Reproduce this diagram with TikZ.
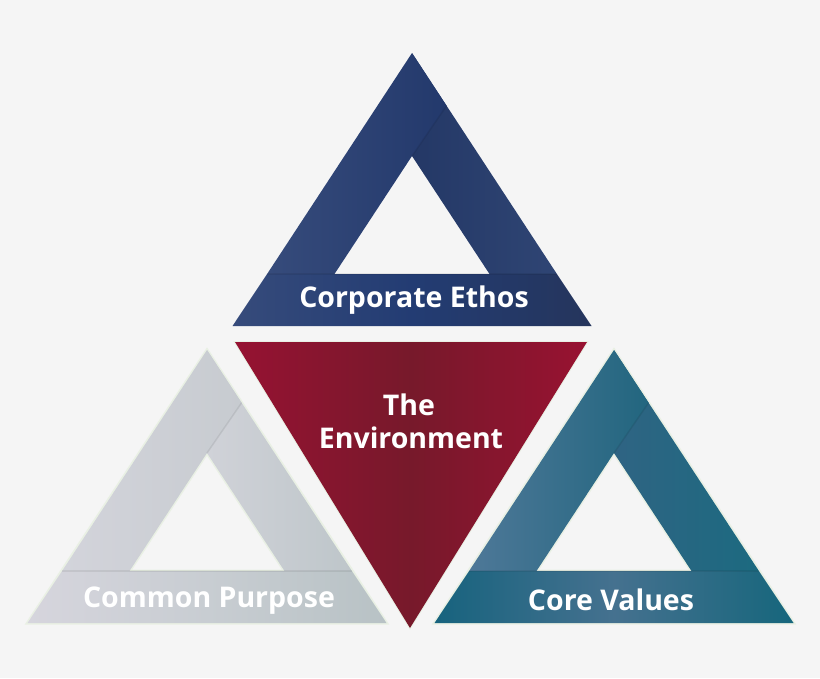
\documentclass[tikz,border=0pt]{standalone}
\usepackage{fontspec}
\setmainfont{Open Sans}[BoldFont={Open Sans Bold}]
\definecolor{bg}{HTML}{F5F5F5}
\definecolor{glow}{HTML}{E9F0E4}
\tikzset{
  lbl/.style={text=white, font=\bfseries\fontsize{28.5}{30}\selectfont, inner sep=0pt, align=center},
  seam/.style={draw=black, draw opacity=0.07, line width=1.5pt},
  halo/.style={draw=glow, line width=3pt, line join=miter},
}
% #1 apex x, #2 apex y, #3 prefix of colours, #4 halo or not
\newcommand\ArmTriangle[4]{%
\begin{scope}[shift={(#1,#2)}]
  \coordinate (A) at (0,0);
  \coordinate (BL) at (-179.5,273);
  \coordinate (BR) at (179.5,273);
  \coordinate (H) at (0,103);
  \coordinate (HL) at (-77.5,221);
  \coordinate (HR) at (77.5,221);
  \coordinate (OL) at (-144.9,221);
  \coordinate (OR) at (144.9,221);
  \coordinate (S) at (34.6,52.8);
  \ifx#4y
    \draw[halo] (A) -- (BR) -- (BL) -- cycle;
    \draw[halo] (H) -- (HR) -- (HL) -- cycle;
  \fi
  % right arm
  \shade[left color=#3RA, right color=#3RB] (A) -- (OR) -- (HR) -- (H) -- cycle;
  % left arm
  \shade[left color=#3LA, right color=#3LB] (OL) -- (A) -- (S) -- (H) -- (HL) -- cycle;
  \draw[seam] (S) -- (H);
  % band
  \shade[left color=#3BA, right color=#3BB, middle color=#3BM] (BL) -- (BR) -- (OR) -- (OL) -- cycle;
  \draw[seam] (OL) -- (OR);
\end{scope}}
% top: blue
\definecolor{bRA}{HTML}{243866}\definecolor{bRB}{HTML}{2F4574}
\definecolor{bLA}{HTML}{364B7B}\definecolor{bLB}{HTML}{23396C}
\definecolor{bBA}{HTML}{364B7B}\definecolor{bBM}{HTML}{233C73}\definecolor{bBB}{HTML}{25355C}
% left: grey
\definecolor{gRA}{HTML}{D0D2D8}\definecolor{gRB}{HTML}{BEC6CA}
\definecolor{gLA}{HTML}{D3D4DB}\definecolor{gLB}{HTML}{C7CBD0}
\definecolor{gBA}{HTML}{D6D5DD}\definecolor{gBM}{HTML}{C8CDD2}\definecolor{gBB}{HTML}{B8C2C5}
% right: teal
\definecolor{tRA}{HTML}{2F6483}\definecolor{tRB}{HTML}{1C6A80}
\definecolor{tLA}{HTML}{4E7898}\definecolor{tLB}{HTML}{22667F}
\definecolor{tBA}{HTML}{17637E}\definecolor{tBM}{HTML}{45718F}\definecolor{tBB}{HTML}{16667C}
% red
\definecolor{rA}{HTML}{961232}\definecolor{rM}{HTML}{77192B}\definecolor{rB}{HTML}{981231}
\begin{document}
\begin{tikzpicture}[x=1pt,y=-1pt]
  \fill[bg] (0,0) rectangle (820,678);
  \useasboundingbox (0,0) rectangle (820,678);
  \ArmTriangle{412}{53}{b}{n}
  \ArmTriangle{207}{350}{g}{y}
  \ArmTriangle{614}{350}{t}{y}
  \coordinate (RL) at (235,342);
  \coordinate (RR) at (587,342);
  \coordinate (RB) at (410,628);
  \draw[halo, line width=2pt] (RL) -- (RR) -- (RB) -- cycle;
  \shade[left color=rA, right color=rB, middle color=rM] (RL) -- (RR) -- (RB) -- cycle;
  \node[lbl] (ethos) at (414,300) {Corporate Ethos};
  \node[lbl] (purpose) at (209,601) {Common Purpose};
  \node[lbl] (values) at (611,600) {Core Values};
  \node[lbl] (env1) at (409,405) {The};
  \node[lbl] (env2) at (411,438) {Environment};
\end{tikzpicture}
\end{document}
